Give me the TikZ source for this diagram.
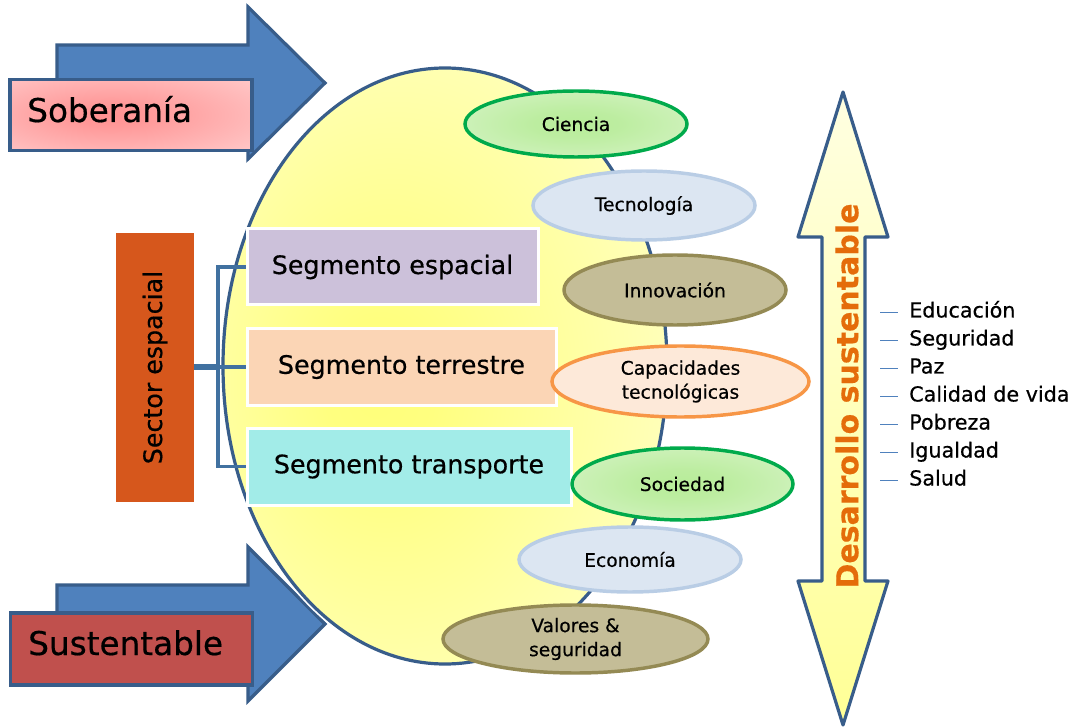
\documentclass[tikz,border=0pt]{standalone}
\usepackage{fontspec}
\setmainfont{DejaVu Sans}[FakeBold=0.5]
\usetikzlibrary{shapes.geometric}

% palette
\definecolor{arrowblue}{RGB}{79,129,189}
\definecolor{edgeblue}{RGB}{56,93,138}
\definecolor{brblue}{RGB}{65,113,160}
\definecolor{rust}{RGB}{214,87,28}
\definecolor{lilac}{RGB}{204,193,218}
\definecolor{peach}{RGB}{251,213,181}
\definecolor{aqua}{RGB}{162,236,232}
\definecolor{brick}{RGB}{192,80,77}
\definecolor{leafline}{RGB}{0,170,75}
\definecolor{skyfill}{RGB}{220,230,242}
\definecolor{skyline}{RGB}{185,205,229}
\definecolor{olivefill}{RGB}{196,189,151}
\definecolor{oliveline}{RGB}{148,138,84}
\definecolor{apricotfill}{RGB}{253,233,217}
\definecolor{apricotline}{RGB}{247,150,70}
\definecolor{sunorange}{RGB}{228,108,10}

% soft glows
\pgfdeclareradialshading{yellowglow}{\pgfpoint{-8bp}{-2bp}}{rgb(0bp)=(1,1,0.48);rgb(6bp)=(1,1,0.5);rgb(38bp)=(1,1,0.8);rgb(50bp)=(1,1,0.88);rgb(75bp)=(1,1,0.9)}
\pgfdeclareradialshading{greenglow}{\pgfpoint{0bp}{0bp}}{rgb(0bp)=(0.72,0.93,0.6);rgb(10bp)=(0.74,0.93,0.63);rgb(50bp)=(0.9,0.97,0.87);rgb(75bp)=(0.9,0.97,0.87)}
\pgfdeclareradialshading{pinkglow}{\pgfpoint{-5bp}{0bp}}{rgb(0bp)=(1,0.57,0.57);rgb(8bp)=(1,0.6,0.6);rgb(50bp)=(1,0.86,0.86);rgb(75bp)=(1,0.88,0.88)}

\newcommand\bigfont{\fontsize{24.5}{29}\selectfont}
\newcommand\segfont{\fontsize{19}{23}\selectfont}
\newcommand\ovalfont{\fontsize{14}{18}\selectfont}
\newcommand\listfont{\fontsize{15.5}{19}\selectfont}

\tikzset{
  blockarrow/.style={fill=arrowblue, draw=edgeblue, line width=2.4pt, line join=miter},
  labelbox/.style={rectangle, draw=edgeblue, line width=2.4pt, inner sep=0pt,
    minimum width=181.5pt, minimum height=53pt},
  boxtext/.style={anchor=base west, inner sep=0pt, font=\bigfont},
  segbox/.style={rectangle, draw=white, line width=2.25pt, inner sep=0pt,
    font=\segfont, minimum height=57pt},
  oval/.style={ellipse, inner sep=0pt, line width=2.6pt, font=\ovalfont, align=center},
  greenoval/.style={oval, shading=greenglow, draw=leafline},
  skyoval/.style={oval, fill=skyfill, draw=skyline},
  oliveoval/.style={oval, fill=olivefill, draw=oliveline},
  apricotoval/.style={oval, fill=apricotfill, draw=apricotline},
  bracket/.style={draw=brblue, line width=2.4pt},
  itemtext/.style={anchor=base west, inner sep=0pt, font=\listfont},
  bullet/.style={draw=arrowblue, line width=1.2pt},
}

\begin{document}
\begin{tikzpicture}[x=0.75pt, y=-0.75pt]
\useasboundingbox (0,0) rectangle (1075,727);
\fill[white] (0,0) rectangle (1075,727);

% block arrows pointing into the central oval
\draw[blockarrow] (57,45) -- (248,45) -- (248,7) -- (325,83) -- (248,159)
  -- (248,121) -- (57,121) -- cycle;
\draw[blockarrow] (57,585) -- (248,585) -- (248,547) -- (325,624) -- (248,701)
  -- (248,663) -- (57,663) -- cycle;

% labels on the arrows
\node[labelbox, shading=pinkglow] (sobbox) at (131,115) {};
\node[boxtext] (soberania) at (27,122) {Soberanía};
\node[labelbox, fill=brick, minimum height=54pt] (susbox) at (131.5,649) {};
\node[boxtext] (sustentable) at (28,655) {Sustentable};

% central oval
\draw[white, line width=5pt] (445,366) ellipse [x radius=222, y radius=298];
\shadedraw[shading=yellowglow, draw=edgeblue, line width=2.4pt]
  (445,366) ellipse [x radius=222, y radius=298];

% space sector and its segments
\node[rectangle, fill=rust, inner sep=0pt, minimum width=58.5pt,
  minimum height=201.75pt, font=\segfont] (sector) at (155,367.5)
  {\rotatebox{90}{Sector espacial}};

\node[segbox, fill=lilac, minimum width=218.25pt] (seg1) at (392.5,267) {Segmento espacial};
\node[segbox, fill=peach, minimum width=231.75pt] (seg2) at (401.5,367) {Segmento terrestre};
\node[segbox, fill=aqua, minimum width=243pt, minimum height=57.75pt] (seg3) at (409,466.5) {Segmento transporte};

\coordinate (bj) at (218,367);
\draw[draw=brblue, line width=4.5pt] (sector.east |- bj) -- (bj);
\draw[bracket] (seg1.west) -- (seg1.west -| bj) -- (seg3.west -| bj) -- (seg3.west);
\draw[bracket] (bj) -- (seg2.west);

% ovals along the rim
\node[greenoval, minimum width=166.5pt, minimum height=49.5pt] (ciencia) at (576,124) {Ciencia};
\node[skyoval, minimum width=166.5pt, minimum height=51.75pt] (tecnologia) at (644,205.5) {Tecnología};
\node[oliveoval, minimum width=166.5pt, minimum height=52.5pt] (innovacion) at (675,290) {Innovación};
\node[apricotoval, minimum width=192.75pt, minimum height=53.25pt] (capacidades) at (680.5,381.5) {Capacidades\\tecnológicas};
\node[greenoval, minimum width=165.75pt, minimum height=54pt] (sociedad) at (682.5,484) {Sociedad};
\node[skyoval, minimum width=166.5pt, minimum height=48.75pt] (economia) at (630,559.5) {Economía};
\node[oliveoval, minimum width=198.75pt, minimum height=51pt] (valores) at (575.5,639) {Valores \&\\seguridad};

% double arrow
\shadedraw[top color={rgb,255:red,255;green,255;blue,225},
  bottom color={rgb,255:red,255;green,255;blue,150},
  draw=edgeblue, line width=2.4pt, line join=round]
  (843,92) -- (888,237) -- (865,237) -- (865,581) -- (888,581) -- (843,725)
  -- (798,581) -- (822,581) -- (822,237) -- (798,237) -- cycle;
\node[inner sep=0pt, text=sunorange, font=\bfseries\fontsize{22.5}{27}\selectfont]
  (desarrollo) at (847,396) {\rotatebox{90}{Desarrollo sustentable}};

% list of goals
\node[itemtext] (e1) at (909,317.5) {Educación};
\node[itemtext] (e2) at (909,345.5) {Seguridad};
\node[itemtext] (e3) at (909,373.5) {Paz};
\node[itemtext] (e4) at (909,401.5) {Calidad de vida};
\node[itemtext] (e5) at (909,429.5) {Pobreza};
\node[itemtext] (e6) at (909,457.5) {Igualdad};
\node[itemtext] (e7) at (909,485.5) {Salud};
\foreach \n in {e1,e2,e3,e4,e5,e6,e7}
  \draw[bullet] (\n.base west) ++(-29,-5) -- ++(18,0);

\end{tikzpicture}
\end{document}
